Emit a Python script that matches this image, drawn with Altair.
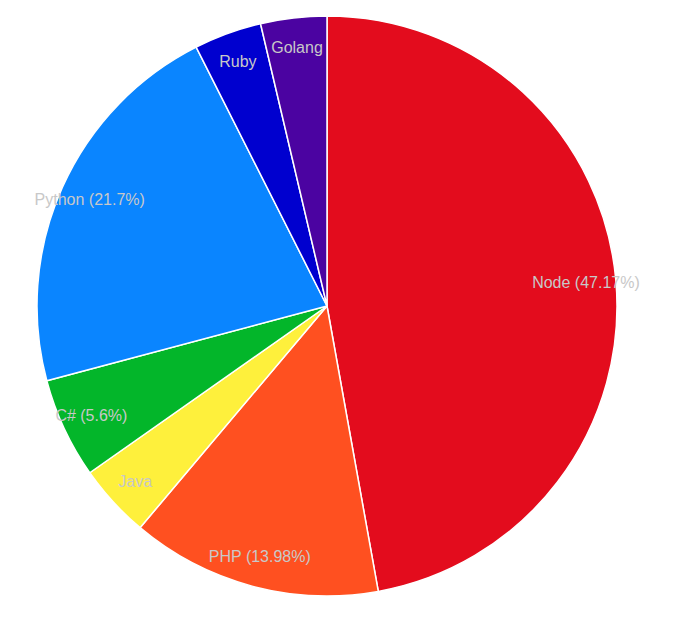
import altair as alt
import pandas as pd

languages = ["Node", "PHP", "Java", "C#", "Python", "Ruby", "Golang"]
shares = [47.17, 13.98, 4.1, 5.6, 21.7, 3.77, 3.68]
labels = ["Node (47.17%)", "PHP (13.98%)", "Java", "C# (5.6%)", "Python (21.7%)", "Ruby", "Golang"]
colors = ["#E30C1D", "#FF5020", "#FEF03C", "#03B62A", "#0A85FF", "#0000CF", "#4B03A1"]

df = pd.DataFrame({
    "language": languages,
    "share": shares,
    "label": labels,
    "order": list(range(len(languages))),
})

base = alt.Chart(df).encode(
    theta=alt.Theta("share:Q", stack=True),
    order=alt.Order("order:Q"),
)

arcs = base.mark_arc(outerRadius=290, stroke="white", strokeWidth=1.5).encode(
    color=alt.Color("language:N", scale=alt.Scale(domain=languages, range=colors), legend=None)
)

text = base.mark_text(radius=260, fontSize=16, font="Liberation Sans", color="#C8C8C8").encode(
    text="label:N"
)

chart = (arcs + text).properties(width=638, height=596, padding=0).configure_view(stroke=None)

chart.save("out.html", embed_options={"renderer": "svg", "actions": False})
